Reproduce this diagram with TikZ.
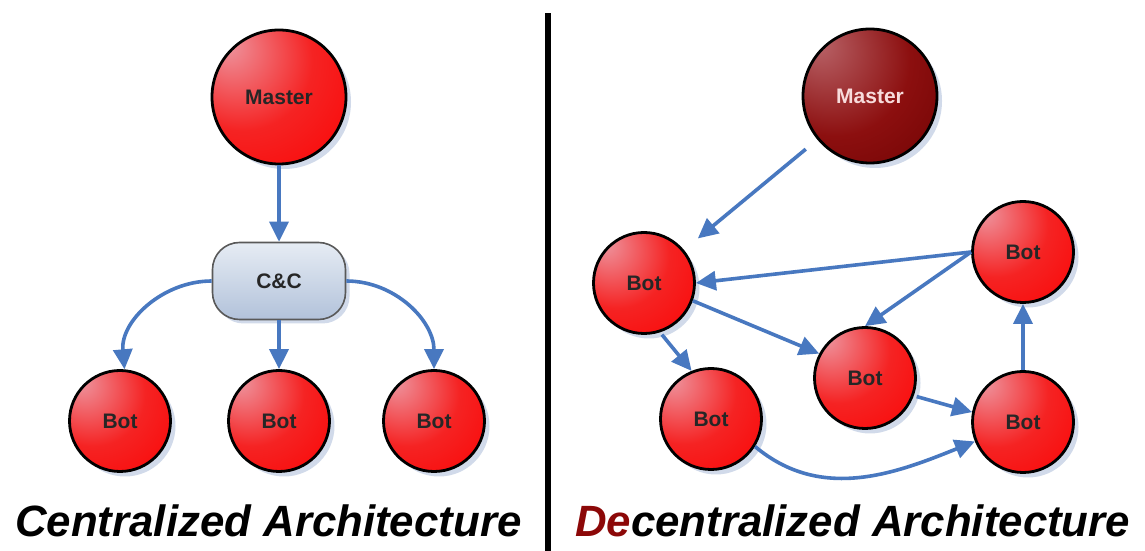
\documentclass[tikz,border=0pt]{standalone}
\usepackage{fontspec}
\setmainfont{Liberation Sans}
\usetikzlibrary{arrows.meta,shadows}

% palette
\definecolor{ballhi}{RGB}{238,150,160}
\definecolor{ballmid}{RGB}{245,35,35}
\definecolor{ballred}{RGB}{252,0,0}
\definecolor{darkhi}{RGB}{185,100,105}
\definecolor{darkmid}{RGB}{140,15,15}
\definecolor{darklo}{RGB}{105,0,0}
\definecolor{linkblue}{RGB}{72,120,192}
\definecolor{shadowblue}{RGB}{205,215,232}
\definecolor{boxtop}{RGB}{230,236,244}
\definecolor{boxbottom}{RGB}{178,194,218}
\definecolor{detitle}{RGB}{140,8,8}
\definecolor{masterlabel}{RGB}{248,220,220}

% sphere-like fills, lit from the upper left
\pgfdeclareradialshading{redsphere}{\pgfpoint{-20bp}{20bp}}{%
  color(0bp)=(ballhi); color(26bp)=(ballmid); color(52bp)=(ballred); color(80bp)=(ballred)}
\pgfdeclareradialshading{darksphere}{\pgfpoint{-20bp}{20bp}}{%
  color(0bp)=(darkhi); color(28bp)=(darkmid); color(55bp)=(darklo); color(80bp)=(darklo)}

\tikzset{
  ball/.style={circle, inner sep=0pt, draw=black, line width=2.8pt,
    shading=redsphere,
    drop shadow={shadow xshift=5pt, shadow yshift=-5pt, fill=shadowblue, opacity=0.9},
    font=\fontsize{21}{23}\selectfont\bfseries, text=black!85},
  bot/.style={ball, minimum size=101pt},
  master/.style={ball, minimum size=134pt},
  darkmaster/.style={master, shading=darksphere, text=masterlabel},
  ccbox/.style={draw=black!65, line width=1.6pt, rounded corners=27pt,
    minimum width=133pt, minimum height=77pt, inner sep=0pt,
    top color=boxtop, bottom color=boxbottom,
    drop shadow={shadow xshift=4pt, shadow yshift=-4pt, fill=shadowblue, opacity=0.9},
    font=\fontsize{21}{23}\selectfont\bfseries, text=black!85},
  link/.style={draw=linkblue, line width=3.6pt,
    -{Triangle[length=20pt,width=19pt]}},
  heading/.style={anchor=base west, inner sep=0pt,
    font=\fontsize{43.8}{48}\selectfont\bfseries\itshape}
}

\begin{document}
\begin{tikzpicture}[x=1pt,y=1pt]
  \useasboundingbox (0,0) rectangle (1145,551);
  \fill[white] (0,0) rectangle (1145,551);

  % divider
  \fill[black] (545,0) rectangle (551,538);

  % ---- centralized side ----
  \node[master] (m1) at (279,454) {Master};
  \node[ccbox] (cc) at (279,270) {C\&C};
  \node[bot] (b1) at (120,130) {Bot};
  \node[bot] (b2) at (279,130) {Bot};
  \node[bot] (b3) at (434,130) {Bot};

  \draw[link] (m1) -- (cc);
  \draw[link] (cc.west) to[out=180,in=95] (b1.85);
  \draw[link] (cc.south) -- (b2.north);
  \draw[link] (cc.east) to[out=0,in=90] (b3.north);

  \node[heading] (t1) at (15,14) {Centralized Architecture};

  % ---- decentralized side ----
  \node[darkmaster] (m2) at (870,455) {Master};
  \node[bot] (r1) at (644,268) {Bot};
  \node[bot] (r2) at (1023,299) {Bot};
  \node[bot] (r3) at (865,173) {Bot};
  \node[bot] (r4) at (711,132) {Bot};
  \node[bot] (r5) at (1023,129) {Bot};

  \draw[link, shorten <=15pt, shorten >=18pt] (m2) -- (r1);
  \draw[link] (r2.west) -- (r1.east);
  \draw[link] (r2.west) -- (r3.north);
  \draw[link] (r1.-20) -- (r3.152);
  \draw[link, shorten <=3pt] (r1.-72) -- (r4.112);
  \draw[link, shorten <=3pt] (r3.-20) -- (r5.169);
  \draw[link] (r5.north) -- (r2.south);
  \draw[link] (r4.-32) to[out=-40,in=202] (r5.-158);

  \node[heading] (t2) at (575,14) {\textcolor{detitle}{De}centralized Architecture};
\end{tikzpicture}
\end{document}
